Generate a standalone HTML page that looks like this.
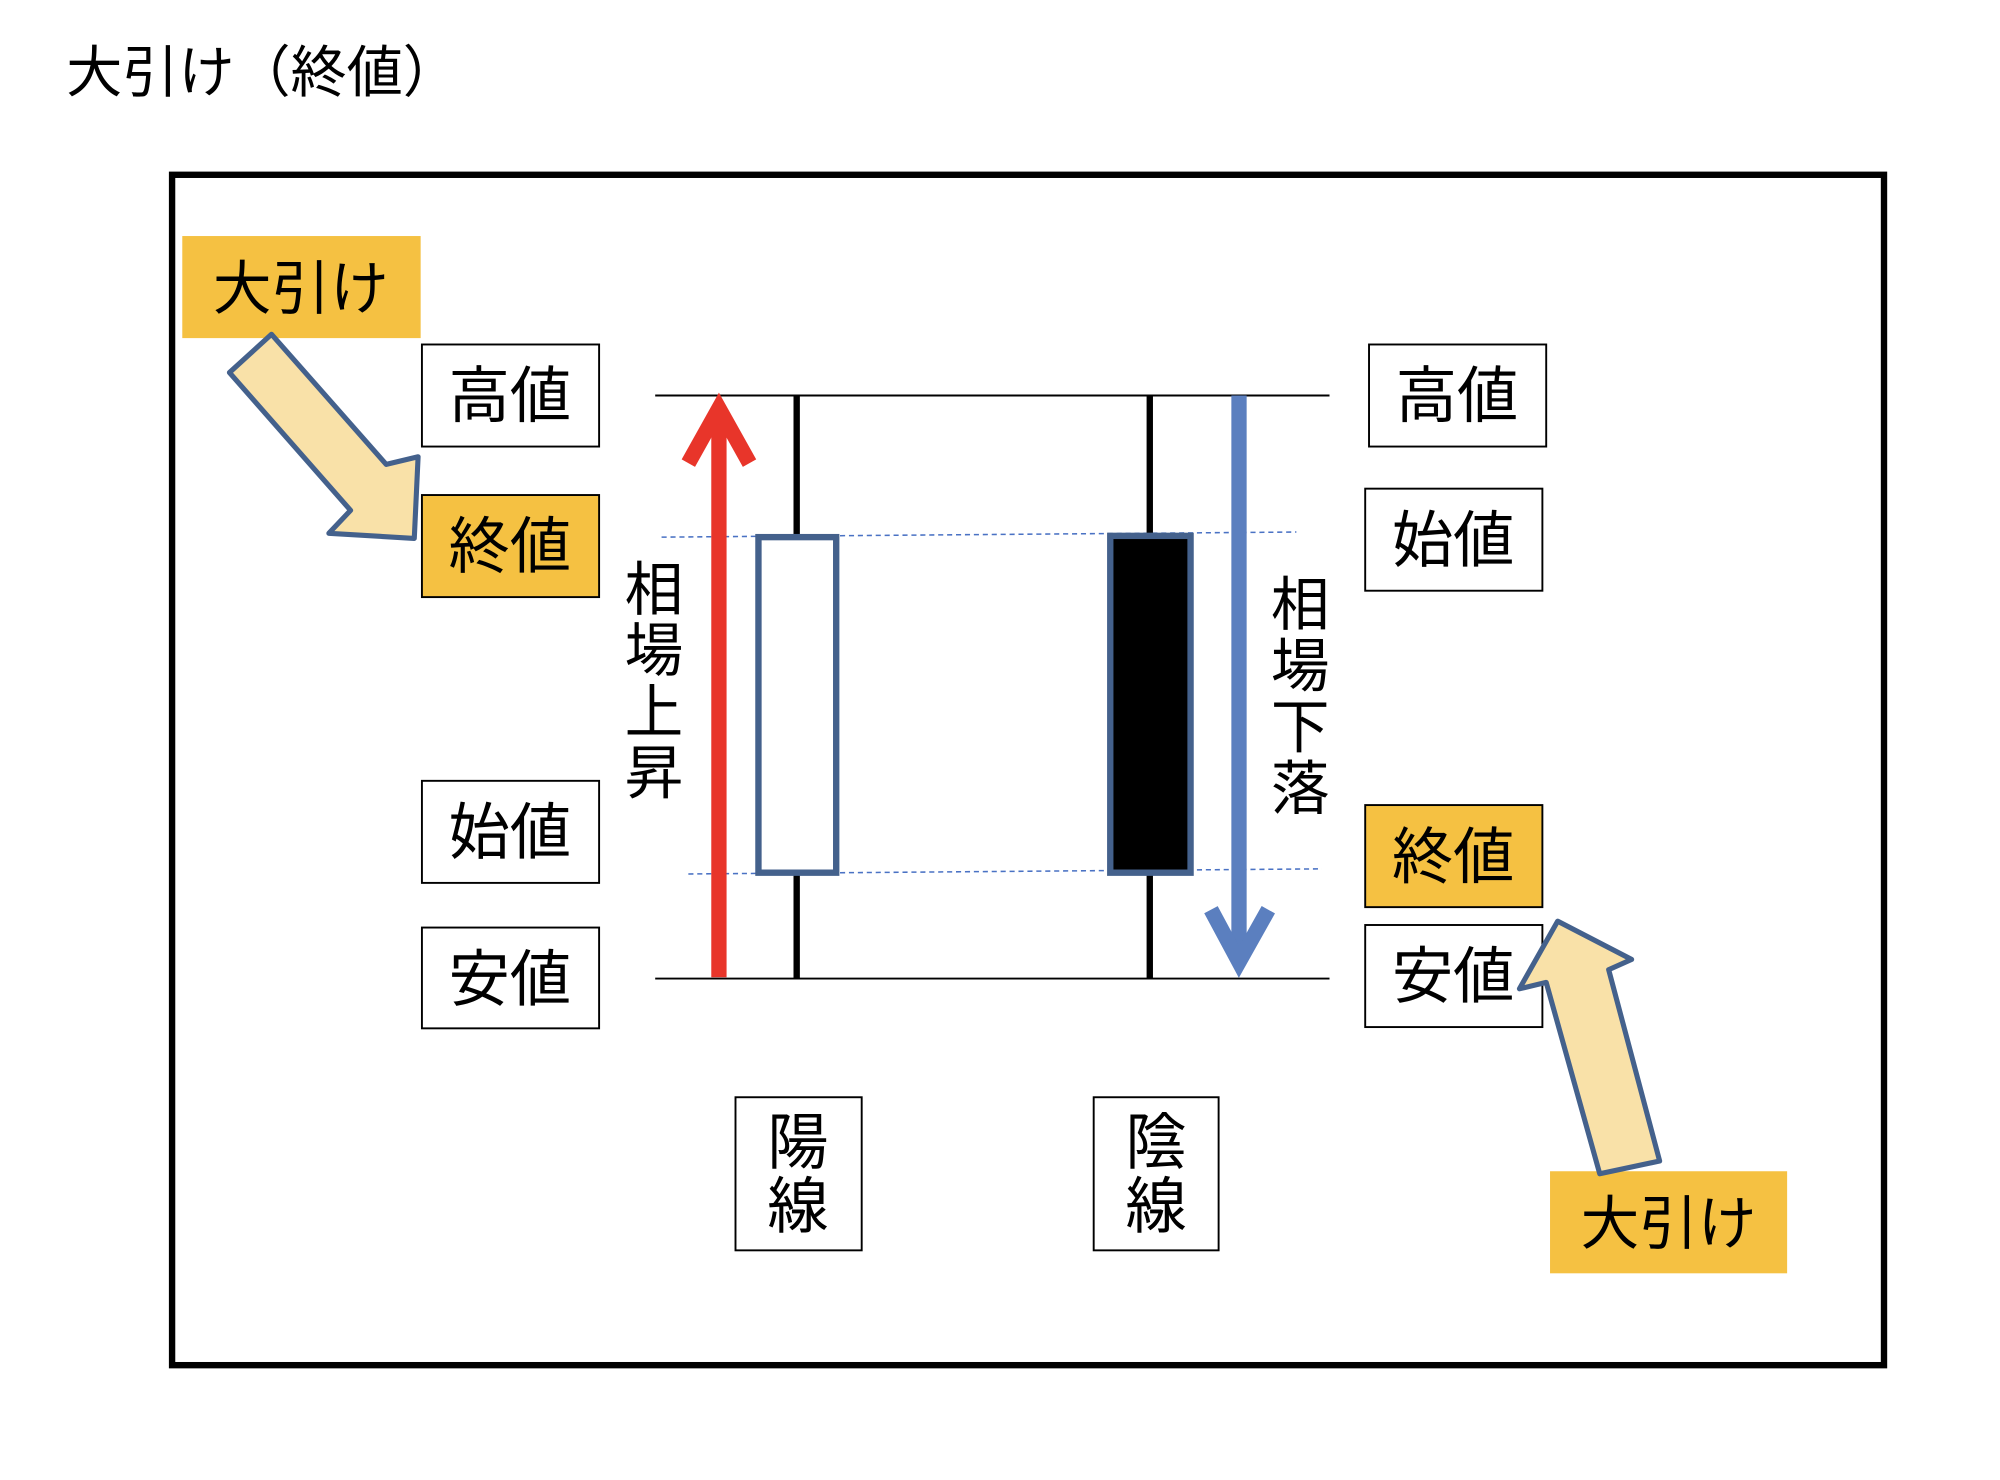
<!DOCTYPE html>
<html><head><meta charset="utf-8"><style>
html,body{margin:0;padding:0;background:#fff;}
svg{display:block;}
text{font-family:"Liberation Sans","Noto Sans CJK JP",sans-serif;fill:#000;}
</style></head><body>
<svg width="2000" height="1480" viewBox="0 0 1569 1160" preserveAspectRatio="none" xmlns="http://www.w3.org/2000/svg">
<text x="52" y="72" font-size="44">大引け（終値）</text>
<rect x="135" y="137" width="1343" height="933" fill="none" stroke="#000" stroke-width="5"/>
<rect x="143" y="185" width="187" height="80" fill="#f5c142"/>
<text x="236" y="242" font-size="46" text-anchor="middle">大引け</text>
<rect x="1216" y="918" width="186" height="80" fill="#f5c142"/>
<text x="1309" y="975" font-size="46" text-anchor="middle">大引け</text>

<g stroke="#000" stroke-width="1.5" font-size="48" text-anchor="middle">
<rect x="331" y="270" width="139" height="80" fill="#fff"/>
<rect x="331" y="388" width="139" height="80" fill="#f5c142"/>
<rect x="331" y="612" width="139" height="80" fill="#fff"/>
<rect x="331" y="727" width="139" height="79" fill="#fff"/>
<rect x="1074" y="270" width="139" height="80" fill="#fff"/>
<rect x="1071" y="383" width="139" height="80" fill="#fff"/>
<rect x="1071" y="631" width="139" height="80" fill="#f5c142"/>
<rect x="1071" y="725" width="139" height="80" fill="#fff"/>
<rect x="577" y="860" width="99" height="120" fill="#fff"/>
<rect x="858" y="860" width="98" height="120" fill="#fff"/>
</g>
<g font-size="48" text-anchor="middle">
<text x="400" y="327">高値</text>
<text x="400" y="445">終値</text>
<text x="400" y="669">始値</text>
<text x="400" y="784">安値</text>
<text x="1143" y="327">高値</text>
<text x="1140" y="440">始値</text>
<text x="1140" y="688">終値</text>
<text x="1140" y="782">安値</text>
<text x="626" y="912">陽</text>
<text x="626" y="962">線</text>
<text x="907" y="912">陰</text>
<text x="907" y="962">線</text>
</g>
<g font-size="46" text-anchor="middle">
<text x="513" y="478">相</text><text x="513" y="526">場</text><text x="513" y="574">上</text><text x="513" y="622">昇</text>
<text x="1020" y="490">相</text><text x="1020" y="538">場</text><text x="1020" y="586">下</text><text x="1020" y="634">落</text>
</g>

<line x1="514" y1="310" x2="1043" y2="310" stroke="#000" stroke-width="1.5"/>
<line x1="514" y1="767" x2="1043" y2="767" stroke="#000" stroke-width="1.5"/>
<line x1="519" y1="421" x2="1017" y2="417" stroke="#4a72c4" stroke-width="1.2" stroke-dasharray="4,3"/>
<line x1="540" y1="685" x2="1037" y2="681" stroke="#4a72c4" stroke-width="1.2" stroke-dasharray="4,3"/>

<g stroke="#000" stroke-width="5">
<line x1="625" y1="310" x2="625" y2="422"/><line x1="625" y1="684" x2="625" y2="767"/>
<line x1="902" y1="310" x2="902" y2="422"/><line x1="902" y1="684" x2="902" y2="767"/>
</g>
<rect x="595" y="421" width="61" height="263" fill="#fff" stroke="#44618c" stroke-width="5"/>
<rect x="871" y="420" width="63" height="264" fill="#000" stroke="#44618c" stroke-width="5"/>

<line x1="564" y1="766" x2="564" y2="322" stroke="#e8352a" stroke-width="12"/>
<polyline points="540,363 564,320 588,363" fill="none" stroke="#e8352a" stroke-width="12"/>
<line x1="972" y1="310" x2="972" y2="752" stroke="#5b7fbf" stroke-width="12"/>
<polyline points="950,713 972,754 995,713" fill="none" stroke="#5b7fbf" stroke-width="12"/>

<polygon points="213,262 303,364 328,358 325,422 258,418 275,400 180,292" fill="#f9e1a8" stroke="#44618c" stroke-width="4" stroke-linejoin="round"/>
<polygon points="1222,722 1280,752 1262,760 1302,910 1255,920 1213,770 1192,775" fill="#f9e1a8" stroke="#44618c" stroke-width="4" stroke-linejoin="round"/>
</svg>
</body></html>
